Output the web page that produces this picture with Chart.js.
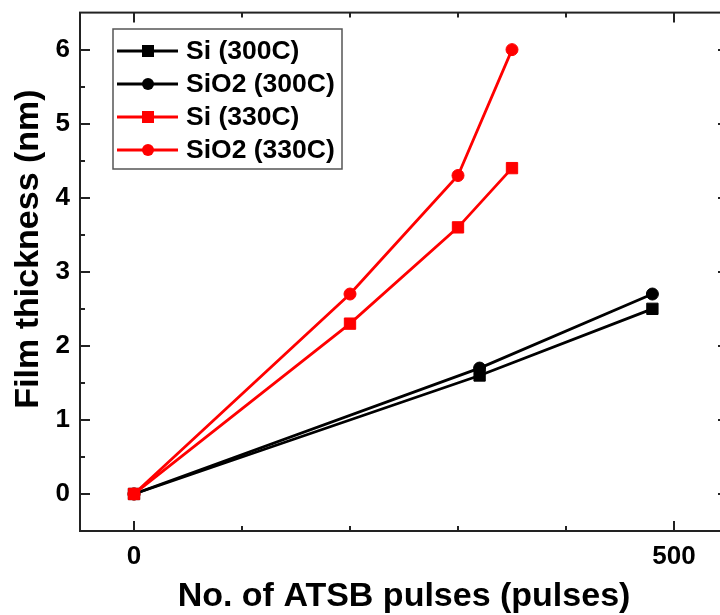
<!DOCTYPE html>
<html>
<head>
<meta charset="utf-8">
<title>Film thickness vs ATSB pulses</title>
<script src="https://cdn.jsdelivr.net/npm/chart.js@4/dist/chart.umd.min.js"></script>
<style>
  html, body { margin: 0; padding: 0; background: #fff; overflow: hidden; width: 720px; height: 615px; }
  canvas { display: block; }
</style>
</head>
<body>
<canvas id="chart" width="740" height="615"></canvas>
<script>
// Axis ticks
const xTickLabels = [0, 500];
const xMinorTicks = [100, 200, 300, 400];
const yTickLabels = [0, 1, 2, 3, 4, 5, 6];
const yMinorTicks = [0.5, 1.5, 2.5, 3.5, 4.5, 5.5];

// Axis titles
const xTitle = 'No. of ATSB pulses (pulses)';
const yTitle = 'Film thickness (nm)';

// Series
const seriesNames = ['Si (300C)', 'SiO2 (300C)', 'Si (330C)', 'SiO2 (330C)'];
const pulses300C = [0, 320, 480];
const si300C = [0, 1.6, 2.5];
const sio2300C = [0, 1.7, 2.7];
const pulses330C = [0, 200, 300, 350];
const si330C = [0, 2.3, 3.6, 4.4];
const sio2330C = [0, 2.7, 4.3, 6.0];

const FONT = "'Liberation Sans', Arial, Helvetica, sans-serif";

function points(xs, ys) {
  return xs.map((x, i) => ({ x: x, y: ys[i] }));
}

function series(label, xs, ys, color, style, order) {
  const square = style === 'rect';
  return {
    label: label,
    data: points(xs, ys),
    showLine: true,
    borderColor: color,
    backgroundColor: color,
    borderWidth: 2.8,
    pointStyle: style,
    pointRadius: square ? 8 : 6,
    pointBorderWidth: 1,
    pointBorderColor: color,
    pointBackgroundColor: color,
    order: order
  };
}

// Frame box with inward tick marks on all four sides
const frameTicks = {
  id: 'frameTicks',
  afterDraw(chart) {
    const { ctx, chartArea: a, scales: { x, y } } = chart;
    ctx.save();
    ctx.strokeStyle = '#222';
    ctx.lineWidth = 2;
    ctx.strokeRect(a.left, a.top, a.right - a.left, a.bottom - a.top);
    ctx.beginPath();
    const xt = (v, len) => {
      const px = Math.round(x.getPixelForValue(v));
      ctx.moveTo(px, a.bottom); ctx.lineTo(px, a.bottom - len);
      ctx.moveTo(px, a.top); ctx.lineTo(px, a.top + len);
    };
    const yt = (v, len) => {
      const py = Math.round(y.getPixelForValue(v));
      ctx.moveTo(a.left, py); ctx.lineTo(a.left + len, py);
      ctx.moveTo(a.right, py); ctx.lineTo(a.right - len, py);
    };
    xTickLabels.forEach(v => xt(v, 10));
    xMinorTicks.forEach(v => xt(v, 5));
    yTickLabels.forEach(v => yt(v, 10));
    yMinorTicks.forEach(v => yt(v, 5));
    ctx.stroke();

    // vertical axis title, placed beside the y scale
    ctx.translate(29, 249);
    ctx.rotate(-Math.PI / 2);
    ctx.fillStyle = '#000';
    ctx.font = 'bold 34px ' + FONT;
    ctx.textAlign = 'center';
    ctx.textBaseline = 'middle';
    ctx.fillText(yTitle, 0, 0);
    ctx.restore();
  }
};

// Boxed legend in the upper-left corner of the plot
const boxLegend = {
  id: 'boxLegend',
  afterDraw(chart) {
    const { ctx } = chart;
    const box = { left: 113, top: 29, width: 229, height: 140 };
    ctx.save();
    ctx.fillStyle = '#fff';
    ctx.fillRect(box.left, box.top, box.width, box.height);
    ctx.strokeStyle = '#555';
    ctx.lineWidth = 1.5;
    ctx.strokeRect(box.left, box.top, box.width, box.height);
    chart.data.datasets.forEach((ds, i) => {
      const cy = 51 + i * 33;
      ctx.strokeStyle = ds.borderColor;
      ctx.lineWidth = 2.8;
      ctx.beginPath();
      ctx.moveTo(117, cy); ctx.lineTo(178, cy);
      ctx.stroke();
      ctx.fillStyle = ds.backgroundColor;
      ctx.beginPath();
      if (ds.pointStyle === 'rect') {
        ctx.rect(142, cy - 6, 12, 12);
      } else {
        ctx.arc(148, cy, 6, 0, Math.PI * 2);
      }
      ctx.fill();
      ctx.fillStyle = '#000';
      ctx.font = 'bold 26.5px ' + FONT;
      ctx.textBaseline = 'middle';
      ctx.textAlign = 'left';
      ctx.fillText(ds.label, 186, cy + 1);
    });
    ctx.restore();
  }
};

new Chart(document.getElementById('chart'), {
  type: 'scatter',
  data: {
    datasets: [
      series(seriesNames[0], pulses300C, si300C, '#000000', 'rect', 2),
      series(seriesNames[1], pulses300C, sio2300C, '#000000', 'circle', 3),
      series(seriesNames[2], pulses330C, si330C, '#ff0000', 'rect', 0),
      series(seriesNames[3], pulses330C, sio2330C, '#ff0000', 'circle', 1)
    ]
  },
  options: {
    responsive: false,
    animation: false,
    devicePixelRatio: 1,
    layout: { padding: { top: 12, right: 12, left: 0, bottom: 0 } },
    plugins: { legend: { display: false }, tooltip: { enabled: false } },
    scales: {
      x: {
        type: 'linear',
        position: 'bottom',
        min: -50,
        max: 550,
        afterBuildTicks: s => { s.ticks = xTickLabels.map(v => ({ value: v })); },
        afterFit: s => { s.height = 84; },
        grid: { display: false, drawTicks: false },
        border: { display: false },
        ticks: {
          color: '#000',
          padding: 10,
          maxRotation: 0,
          autoSkip: false,
          font: { family: FONT, size: 26, weight: 'bold' }
        },
        title: {
          display: true,
          text: xTitle,
          color: '#000',
          font: { family: FONT, size: 34, weight: 'bold', lineHeight: 1 },
          padding: { top: 0, bottom: 1 }
        }
      },
      y: {
        type: 'linear',
        position: 'left',
        min: -0.5,
        max: 6.5,
        afterBuildTicks: s => { s.ticks = yTickLabels.map(v => ({ value: v })); },
        afterFit: s => { s.width = 80; },
        grid: { display: false, drawTicks: false },
        border: { display: false },
        ticks: {
          color: '#000',
          padding: 10,
          autoSkip: false,
          font: { family: FONT, size: 26, weight: 'bold', lineHeight: 0.2 }
        },
        title: { display: false }
      }
    }
  },
  plugins: [frameTicks, boxLegend]
});
</script>
</body>
</html>
